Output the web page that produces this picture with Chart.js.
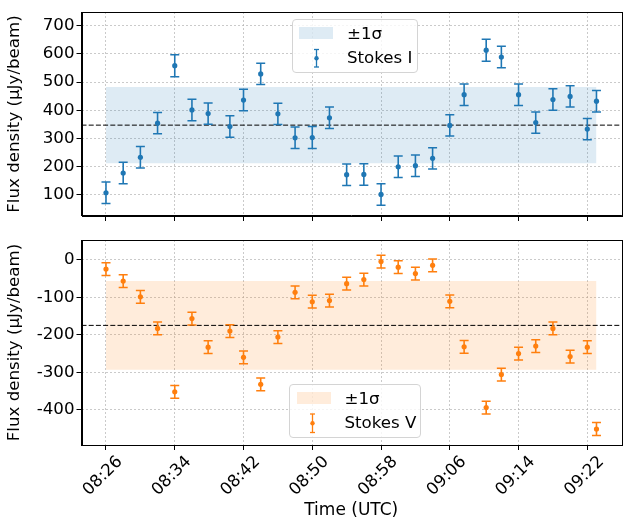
<!DOCTYPE html>
<html>
<head>
<meta charset="utf-8">
<script src="https://cdn.jsdelivr.net/npm/chart.js@4.4.0/dist/chart.umd.min.js"></script>
<style>
  body { margin: 0; background: #fff; font-family: "DejaVu Sans", sans-serif; }
  #wrap { position: relative; width: 627px; height: 523px; overflow: hidden; }
  canvas { position: absolute; left: 0; }
  .legend { position: absolute; background: rgba(255,255,255,0.8); border: 1px solid #d4d4d4; border-radius: 4px; box-sizing: border-box; }
  .legend .patch { position: absolute; }
  .legend .txt { position: absolute; font-size: 16.67px; line-height: 20px; color: #000; white-space: nowrap; transform: translateY(-50%); }
  .legend svg { position: absolute; left: 0; top: 0; }
</style>
</head>
<body>
<div id="wrap">
  <canvas id="topChart" width="627" height="228" style="top:0;width:627px;height:228px"></canvas>
  <canvas id="botChart" width="627" height="295" style="top:228px;width:627px;height:295px"></canvas>

  <div class="legend" style="left:291.5px;top:18.5px;width:126.5px;height:54px">
    <div class="patch" style="left:6.5px;top:7.5px;width:34px;height:11.7px;background:rgba(31,119,180,0.15)"></div>
    <div class="txt" style="left:54.5px;top:14px">±1σ</div>
    <svg width="126" height="54"><g stroke="#1f77b4" stroke-width="1.3">
      <line x1="23.5" y1="29.5" x2="23.5" y2="47"/><line x1="21" y1="29.5" x2="26" y2="29.5"/><line x1="21" y1="47" x2="26" y2="47"/></g>
      <circle cx="23.5" cy="38.3" r="2.2" fill="#1f77b4"/></svg>
    <div class="txt" style="left:54.5px;top:38.5px">Stokes I</div>
  </div>

  <div class="legend" style="left:289px;top:383.5px;width:132px;height:54px">
    <div class="patch" style="left:6.5px;top:7.5px;width:34px;height:11.7px;background:rgba(255,127,14,0.15)"></div>
    <div class="txt" style="left:54.5px;top:14px">±1σ</div>
    <svg width="132" height="54"><g stroke="#ff7f0e" stroke-width="1.3">
      <line x1="22.5" y1="29" x2="22.5" y2="47.5"/><line x1="20" y1="29" x2="25" y2="29"/><line x1="20" y1="47.5" x2="25" y2="47.5"/></g>
      <circle cx="22.5" cy="38.3" r="2.2" fill="#ff7f0e"/></svg>
    <div class="txt" style="left:54.5px;top:38.5px">Stokes V</div>
  </div>
</div>

<script>
// Observation times (UTC)
const times = ["08:26:00", "08:28:00", "08:30:00", "08:32:00", "08:34:00", "08:36:00", "08:37:53", "08:40:25",
               "08:42:00", "08:44:00", "08:46:00", "08:48:00", "08:50:00", "08:52:00", "08:54:00", "08:56:00",
               "08:58:00", "09:00:00", "09:02:00", "09:04:00", "09:06:00", "09:07:40", "09:10:14", "09:12:00",
               "09:14:00", "09:16:00", "09:18:00", "09:20:00", "09:22:00", "09:23:04"];

// Stokes I flux density (uJy/beam) and errors
const stokesI = [107, 177, 233, 354, 558, 401, 388, 342, 436, 529, 387, 302, 303, 373, 171,
                 172, 101, 199, 203, 229, 346, 455, 613, 589, 455, 356, 438, 449, 333, 432];
const errI = [38, 38, 38, 38, 39, 38, 38, 38, 38, 38, 38, 38, 39, 38, 38,
              38, 38, 38, 38, 38, 38, 38, 39, 38, 38, 38, 38, 38, 38, 38];

// Stokes V flux density (uJy/beam) and errors
const stokesV = [-25, -57, -99, -183, -352, -157, -233, -190, -260, -332, -206, -87, -112, -109, -64,
                 -53, -5, -20, -37, -15, -111, -232, -394, -306, -250, -230, -183, -258, -233, -451];
const errV = [17, 17, 17, 17, 17, 17, 17, 17, 17, 17, 17, 17, 17, 17, 17,
              17, 17, 17, 17, 17, 17, 17, 17, 17, 17, 17, 17, 17, 17, 17];

// mean and standard deviation lines
const meanI = 347, sigmaI = 135;
const meanV = -175, sigmaV = 118;

// axis ticks
const xTickLabels = ["08:26", "08:34", "08:42", "08:50", "08:58", "09:06", "09:14", "09:22"];
const yTicksI = [100, 200, 300, 400, 500, 600, 700];
const yTicksV = [-400, -300, -200, -100, 0];

// minutes after 08:00
function toMin(s) {
    const p = s.split(":").map(Number);
    return (p[0] - 8) * 60 + p[1] + (p[2] || 0) / 60;
}
const tMin = times.map(toMin);
const xTickMin = xTickLabels.map(toMin);
const xMin = 23.15, xMax = 85.92;

Chart.defaults.font.family = "'DejaVu Sans', sans-serif";
Chart.defaults.font.size = 16.67;
Chart.defaults.color = "#000";
Chart.defaults.animation = false;

// full frame around plot area
const framePlugin = {
    id: "frame",
    afterDraw(chart) {
        const a = chart.chartArea, ctx = chart.ctx;
        ctx.save();
        ctx.strokeStyle = "#000";
        ctx.lineWidth = 1;
        ctx.strokeRect(Math.round(a.left) + 0.5, Math.round(a.top) + 0.5,
                       Math.round(a.right - a.left), Math.round(a.bottom - a.top));
        ctx.restore();
    }
};

function makePanel(canvasId, values, errs, mean, sigma, color, band, yTicks, yMin, yMax, showX, padTop, xHeight) {
    const pts = tMin.map((t, i) => ({ x: t, y: values[i] }));
    const caps = [];
    const bars = [];
    tMin.forEach((t, i) => {
        caps.push({ x: t, y: values[i] - errs[i] }, { x: t, y: values[i] + errs[i] });
        bars.push({ x: t, y: values[i] - errs[i] }, { x: t, y: values[i] + errs[i] }, { x: t, y: null });
    });
    const t0 = tMin[0], t1 = tMin[tMin.length - 1];

    return new Chart(document.getElementById(canvasId), {
        type: "scatter",
        data: {
            datasets: [
                { data: pts, backgroundColor: color, borderWidth: 0, pointRadius: 2.6, order: 0 },
                { data: caps, pointStyle: "line", pointRadius: 4.5, borderColor: color, borderWidth: 1.5, order: 1 },
                { data: bars, showLine: true, spanGaps: false, pointRadius: 0, borderColor: color, borderWidth: 1.6, order: 2 },
                { data: [{ x: xMin, y: mean }, { x: xMax, y: mean }], showLine: true, pointRadius: 0,
                  borderColor: "#000", borderWidth: 1, borderDash: [5, 2.2], order: 3 },
                { data: [{ x: t0, y: mean + sigma }, { x: t1, y: mean + sigma }], showLine: true, pointRadius: 0,
                  borderWidth: 0, borderColor: "rgba(0,0,0,0)", fill: false, order: 4 },
                { data: [{ x: t0, y: mean - sigma }, { x: t1, y: mean - sigma }], showLine: true, pointRadius: 0,
                  borderWidth: 0, borderColor: "rgba(0,0,0,0)", backgroundColor: band, fill: "-1", order: 5 }
            ]
        },
        options: {
            responsive: false,
            devicePixelRatio: 1,
            layout: { padding: { top: padTop, right: 0, left: 0, bottom: 0 } },
            plugins: { legend: { display: false }, tooltip: { enabled: false } },
            scales: {
                x: {
                    type: "linear", min: xMin, max: xMax,
                    afterBuildTicks: s => { s.ticks = xTickMin.map(v => ({ value: v })); },
                    afterFit: s => { s.height = xHeight; },
                    ticks: {
                        display: showX, autoSkip: false, minRotation: 45, maxRotation: 45,
                        labelOffset: 14, padding: 2,
                        callback: (v, i) => xTickLabels[i]
                    },
                    grid: { color: "rgba(176,176,176,0.85)", lineWidth: 0.8, tickColor: "#000", tickLength: 5, tickWidth: 1 },
                    border: { display: true, color: "#000", width: 1, dash: [2, 2] },
                    title: { display: showX, text: "Time (UTC)", font: { size: 17 }, padding: { top: 0, bottom: 2 } }
                },
                y: {
                    min: yMin, max: yMax,
                    afterBuildTicks: s => { s.ticks = yTicks.map(v => ({ value: v })); },
                    afterFit: s => { s.width = 81.5; },
                    ticks: { padding: 2 },
                    grid: { color: "rgba(176,176,176,0.85)", lineWidth: 0.8, tickColor: "#000", tickLength: 5, tickWidth: 1 },
                    border: { display: true, color: "#000", width: 1, dash: [2, 2] },
                    title: { display: true, text: "Flux density (μJy/beam)", font: { size: 16.67 }, padding: { top: 5, bottom: 0 } }
                }
            }
        },
        plugins: [framePlugin]
    });
}

makePanel("topChart", stokesI, errI, meanI, sigmaI, "#1f77b4", "rgba(31,119,180,0.15)",
          yTicksI, 24.4, 748.7, false, 10, 10);
makePanel("botChart", stokesV, errV, meanV, sigmaV, "#ff7f0e", "rgba(255,127,14,0.15)",
          yTicksV, -493.6, 52.4, true, 10.5, 78);
</script>
</body>
</html>
